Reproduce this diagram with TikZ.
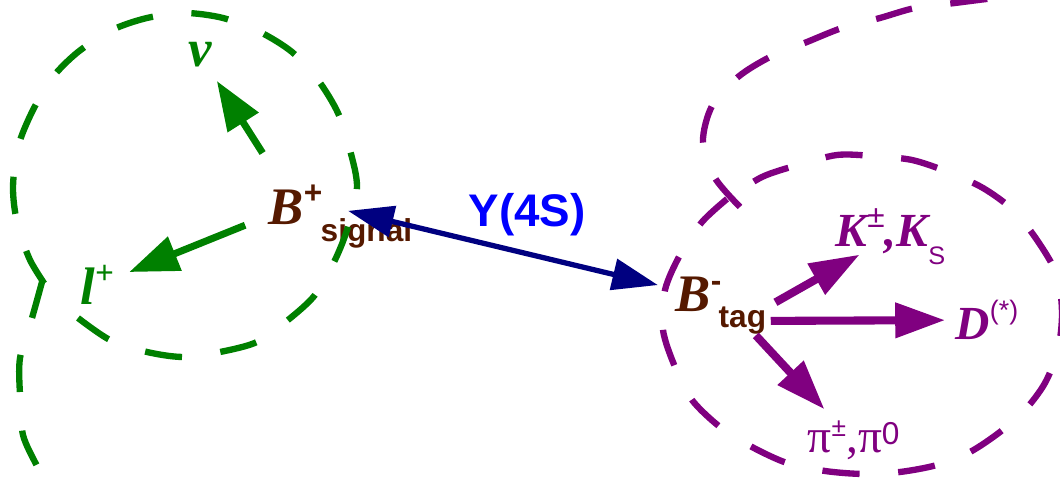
\documentclass[tikz,border=0pt]{standalone}
\usepackage{fontspec}
\setmainfont{Liberation Serif}
\setsansfont{Liberation Sans}
\usepackage{tikz}
\usetikzlibrary{arrows.meta}

\definecolor{lepgreen}{RGB}{0,128,0}
\definecolor{tagpurple}{RGB}{128,0,128}
\definecolor{mesonbrown}{RGB}{85,25,0}
\definecolor{pairnavy}{RGB}{0,0,128}

% raised/lowered sans index: shift, size, text
\newcommand{\sfidx}[3]{\raisebox{#1}{\sffamily\upshape\mdseries\fontsize{#2}{#2}\selectfont #3}}

\begin{document}
\begin{tikzpicture}[x=0.01cm, y=-0.01cm,
  lbl/.style={inner sep=0pt, anchor=base west},
  heavy/.style={font=\fontsize{15}{15}\selectfont\bfseries\itshape},
  medium/.style={font=\fontsize{13.5}{13.5}\selectfont\bfseries\itshape},
  subtext/.style={font=\sffamily\bfseries\fontsize{9}{9}\selectfont, text=mesonbrown},
  gring/.style={draw=lepgreen, line width=1.8pt, dash pattern=on 10.6pt off 11pt},
  pring/.style={draw=tagpurple, line width=1.8pt, dash pattern=on 10.6pt off 11pt},
  garrow/.style={draw=lepgreen, line width=2pt, -{Triangle[length=14pt, width=10pt]}},
  parrow/.style={draw=tagpurple, line width=2.3pt, -{Triangle[length=14.2pt, width=9.6pt]}},
  narrow/.style={draw=pairnavy, fill=pairnavy, line width=1.5pt,
    {Triangle[length=13pt, width=8.8pt]}-{Triangle[length=13pt, width=8.8pt]}}
]
\useasboundingbox (0,0) rectangle (1060,480);
\clip (0,0) rectangle (1060,480);

% signal side
\node[lbl, heavy, text=lepgreen] (nu) at (188,67) {ν};
\node[lbl, heavy, text=lepgreen] (lep) at (80,305) {l\sfidx{6.2pt}{9}{+}};
\node[lbl, heavy, text=mesonbrown] (bsig) at (268,225) {B\sfidx{6.2pt}{9}{\bfseries +}};
\node[lbl, subtext] (sigsub) at (320,242) {signal};

% the pair
\node[lbl, font=\sffamily\bfseries\fontsize{13}{13}\selectfont, text=blue] (ups) at (468,227) {Y(4S)};

% tag side
\node[lbl, heavy, text=mesonbrown] (btag) at (675,312) {B\sfidx{5.8pt}{9}{\bfseries -}};
\node[lbl, subtext] (tagsub) at (718,328) {tag};
\node[lbl, medium, text=tagpurple] (kaon) at (835,247)
  {K\sfidx{5.4pt}{9}{±},K\sfidx{-5.1pt}{7.2}{S}};
\node[lbl, medium, text=tagpurple] (dmes) at (955,340) {D\sfidx{5.9pt}{7.6}{(*)}};
\node[lbl, text=tagpurple, font=\fontsize{13.5}{13.5}\selectfont] (pion) at (807,453)
  {π\sfidx{4.6pt}{7.5}{±},π\sfidx{2.3pt}{9}{0}};

% dashed loops
\draw[gring] plot[smooth] coordinates {(78,318) (110,340) (147,352) (183,357)
  (220,352) (257,342) (288,320) (315,295) (335,260) (348,227) (357,187) (350,150)
  (338,113) (318,80) (292,52) (260,32) (223,18) (185,13) (147,18) (112,30) (78,52)
  (52,78) (32,112) (18,147) (13,187) (17,222) (30,260) (50,292)};
\draw[gring] plot[smooth] coordinates {(42,282) (32,318) (20,358) (20,395)
  (23,435) (38,468) (52,495)};

\draw[pring] plot[smooth] coordinates {(727,199) (702,222) (680,255) (665,290)
  (663,330) (675,367) (692,400) (720,427) (752,447) (787,463) (825,471) (863,474)
  (900,472) (937,465) (970,452) (1000,432) (1025,410) (1045,383) (1058,350)
  (1062,313) (1057,275) (1037,240) (1013,210) (983,188) (948,172) (912,160)
  (873,156) (837,155) (798,165) (762,177) (727,199)};
\draw[pring] plot[smooth] coordinates {(740,207) (715,178) (703,142) (712,106)
  (738,77) (770,57) (807,42) (842,28) (880,18) (915,8) (955,3) (995,-2) (1030,-5)};

% decays
\draw[garrow, shorten <=10.4pt, shorten >=4.3pt] (bsig) -- (nu);
\draw[garrow, shorten <=7pt, shorten >=4.5pt] (bsig) -- (lep);
\draw[narrow, shorten <=7.3pt, shorten >=5pt] (bsig.east) -- (btag);
\draw[parrow, shorten <=2.8pt, shorten >=-6.5pt] (tagsub) -- (kaon);
\draw[parrow, shorten <=1.1pt, shorten >=2.8pt] (tagsub) -- (dmes);
\draw[parrow, shorten <=0pt, shorten >=4.3pt] (tagsub) -- (pion);

\end{tikzpicture}
\end{document}
